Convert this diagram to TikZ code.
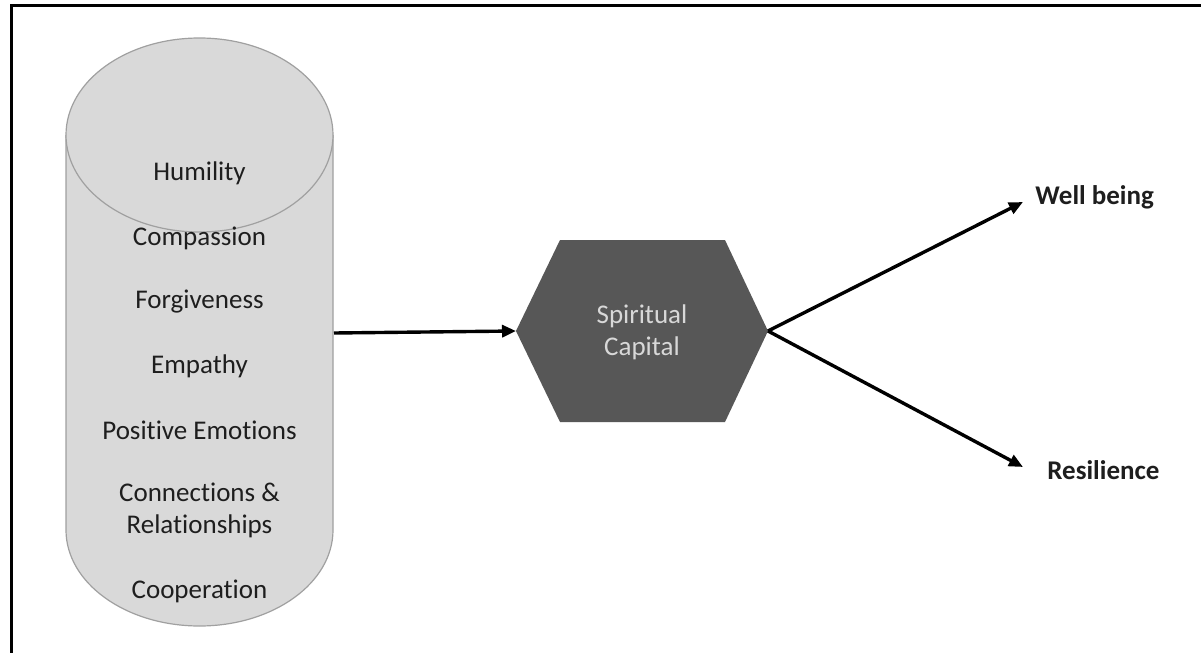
\documentclass[tikz,border=0pt]{standalone}
\usepackage{fontspec}
\setmainfont{Carlito}[Ligatures=NoCommon]
\usetikzlibrary{arrows.meta}
\definecolor{cylfill}{HTML}{D9D9D9}
\definecolor{cylline}{HTML}{A0A0A0}
\definecolor{hexfill}{HTML}{575757}
\definecolor{hextext}{HTML}{D8D8D8}
\definecolor{txt}{HTML}{1E1E1E}
\begin{document}
\begin{tikzpicture}[x=0.5pt,y=-0.5pt,
  lbl/.style={font=\fontsize{13.5}{16}\selectfont, text=txt, inner sep=0pt, align=center},
  outlbl/.style={font=\fontsize{13.5}{16}\selectfont\bfseries, text=txt, inner sep=0pt, anchor=west},
  conn/.style={line width=1.7pt, -{Triangle[length=7pt,width=6pt]}},
  cyl/.style={fill=cylfill, draw=cylline, line width=0.6pt},
]
\useasboundingbox (0,0) rectangle (1201,653);
\fill[white] (0,0) rectangle (1201,653);
% frame
\draw[line width=1.1pt] (11.5,653) -- (11.5,5.5) -- (1201,5.5);
% cylinder
\draw[cyl] (66,135) -- (66,530) arc[start angle=180, end angle=0, x radius=133.5, y radius=96] -- (333,135);
\draw[cyl] (199.5,135) ellipse[x radius=133.5, y radius=97];
\coordinate (cylR) at (334,333);
\node[lbl] (humility) at (199.5,173) {Humility};
\node[lbl] (compassion) at (199.5,238) {Compassion};
\node[lbl] (forgiveness) at (199.5,302) {Forgiveness};
\node[lbl] (empathy) at (199.5,366) {Empathy};
\node[lbl] (positive) at (199.5,430) {Positive Emotions};
\node[lbl] (connections) at (199.5,510) {Connections \&\\Relationships};
\node[lbl] (cooperation) at (199.5,591) {Cooperation};
% hexagon
\fill[hexfill] (516,331) -- (560,240) -- (725,240) -- (768,331) -- (725,422) -- (560,422) -- cycle;
\coordinate (hexL) at (516,331);
\coordinate (hexR) at (768,331);
\node[lbl, text=hextext] (hex) at (642,332) {Spiritual\\Capital};
% outputs
\node[outlbl] (wb) at (1035,197) {Well being};
\node[outlbl] (res) at (1047,470) {Resilience};
\coordinate (wbTip) at (1023,202);
\coordinate (resTip) at (1023,467);
% connectors
\draw[conn] (cylR) -- (hexL);
\draw[conn] (hexR) -- (wbTip);
\draw[conn] (hexR) -- (resTip);
\end{tikzpicture}
\end{document}
